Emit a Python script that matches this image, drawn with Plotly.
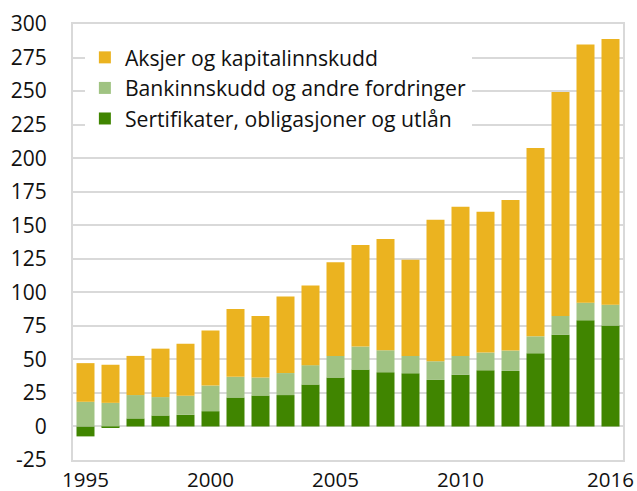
import plotly.graph_objects as go

years = list(range(1995, 2017))
sertifikater = [-7.4, -1.0, 6.0, 8.2, 8.7, 11.4, 21.6, 23.1, 23.4, 31.3, 36.5,
                42.4, 40.5, 39.7, 34.7, 38.5, 41.9, 41.4, 54.6, 68.3, 79.2, 75.2]
bankinnskudd = [18.4, 17.6, 17.4, 13.7, 14.2, 19.1, 15.4, 13.4, 16.4, 14.4, 16.1,
                17.2, 16.3, 12.9, 13.9, 14.1, 13.2, 15.2, 12.6, 14.1, 13.1, 15.6]
aksjer = [28.8, 28.4, 29.2, 36.1, 38.7, 41.0, 50.6, 45.9, 57.0, 59.3, 69.8,
          75.7, 83.0, 71.7, 105.5, 111.2, 105.0, 112.2, 140.3, 167.0, 192.4, 198.1]

x_tickvals = [1995, 2000, 2005, 2010, 2016]
y_tickvals = list(range(-25, 301, 25))
y_ticktext = [str(v) for v in y_tickvals]

names = ["Sertifikater, obligasjoner og utlån",
         "Bankinnskudd og andre fordringer",
         "Aksjer og kapitalinnskudd"]
colors = ["#408500", "#A0C382", "#EBB320"]
series = [sertifikater, bankinnskudd, aksjer]

fig = go.Figure()
for name, col, vals, rank in zip(names, colors, series, [3, 2, 1]):
    fig.add_trace(go.Bar(x=years, y=vals, name=name, marker_color=col,
                         marker_line_width=0, legendgroup=name, legendrank=rank))

font = "Open Sans, Noto Sans, sans-serif"
fig.update_layout(
    width=637, height=491,
    margin=dict(l=73, r=14, t=24, b=31),
    barmode="relative", bargap=0.28,
    plot_bgcolor="white", paper_bgcolor="white",
    font=dict(family=font, size=21, color="#111111"),
    showlegend=True,
    legend=dict(x=0.0216, y=0.9700, xanchor="left", yanchor="top",
                bgcolor="white", borderwidth=0, traceorder="grouped",
                tracegroupgap=0, font=dict(size=21.2)),
)
fig.update_xaxes(range=[1994.5, 2016.5], tickvals=x_tickvals, automargin=False,
                 showgrid=False, showline=True, linecolor="#d9d9d9", linewidth=2,
                 mirror=True, ticks="", ticklabelstandoff=0, zeroline=False,
                 tickfont=dict(size=20.5))
fig.update_yaxes(range=[-25, 300], tickvals=y_tickvals, ticktext=y_ticktext,
                 automargin=False,
                 showgrid=True, gridcolor="#d9d9d9", gridwidth=2,
                 zeroline=True, zerolinecolor="#d9d9d9", zerolinewidth=2,
                 showline=True, linecolor="#d9d9d9", linewidth=2, mirror=True,
                 ticks="", ticklabelstandoff=20)

fig.write_html("out.html", config={"displayModeBar": False})
with open("out.html", encoding="utf-8") as f:
    html = f.read()
html = html.replace("<head>", "<head><style>html,body{margin:0;padding:0;overflow:hidden;}</style>", 1)
with open("out.html", "w", encoding="utf-8") as f:
    f.write(html)
